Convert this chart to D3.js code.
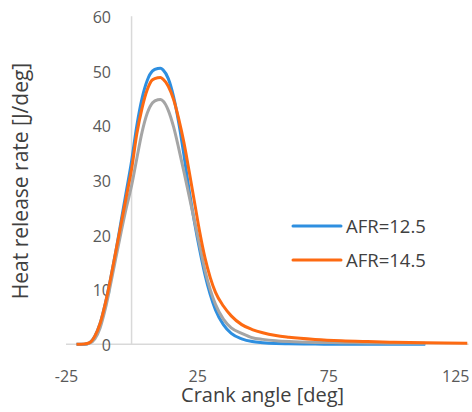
<!DOCTYPE html>
<html>
<head>
<meta charset="utf-8">
<script src="https://cdn.jsdelivr.net/npm/d3@7"></script>
<style>
  html, body { margin: 0; padding: 0; background: #fff; }
  svg { display: block; font-family: "Open Sans", sans-serif; }
</style>
</head>
<body>
<div id="chart"></div>
<script>
// crank angle [deg]
var angles = [-21, -18, -16, -14, -12, -10, -8, -6, -4, -2, 0, 2, 4, 6, 8, 10, 11, 12, 14, 16, 18, 20,
  22, 24, 26, 28, 30, 32, 35, 38, 42, 46, 50, 55, 60, 70, 80, 90, 100, 112, 128];

// heat release rate [J/deg]
var afr125 = [0, 0, 0.3, 1.5, 3.8, 7.5, 12, 17, 22.5, 28, 33.5, 40, 45, 48.3, 50, 50.45, 50.5, 50.2, 48.6, 45.3, 40.5, 34.5,
  28, 22.3, 17.2, 12.7, 9.1, 6.3, 3.6, 2.0, 1.0, 0.5, 0.3, 0.15, 0.1, 0.05, 0, 0, 0, 0, null];
var afrMid = [null, 0, 0.2, 1.0, 3.0, 6.5, 11, 15.8, 20.5, 25, 29, 34, 38.8, 42.3, 44.2, 44.75, 44.8, 44.5, 42.8, 39.8, 35.8, 31.5,
  27, 22.5, 18, 13.5, 10, 7.3, 4.6, 3.0, 2.0, 1.2, 0.9, 0.65, 0.5, 0.35, 0.3, 0.25, 0.2, 0.2, null];
var afr145 = [0, 0.05, 0.3, 1.5, 3.8, 7.5, 12, 17, 22, 27, 32, 38.5, 43.2, 46.6, 48.4, 48.75, 48.8, 48.5, 47.2, 44.8, 41.2, 36.8,
  31.5, 26, 20.5, 15.8, 12.2, 9.5, 7.0, 5.2, 3.6, 2.7, 2.1, 1.6, 1.3, 0.9, 0.65, 0.5, 0.38, 0.28, 0.2];

var xTicks = [-25, 25, 75, 125];
var yTicks = [0, 10, 20, 30, 40, 50, 60];

var series = [
  {name: "AFR=12.5", values: afr125, color: "#2e8fe0", legend: true},
  {name: "AFR=13.5", values: afrMid, color: "#a5a5a5", legend: false},
  {name: "AFR=14.5", values: afr145, color: "#fd6a12", legend: true}
];

var width = 472, height = 412;

var x = d3.scaleLinear().domain([-25, 128.5]).range([66, 468.6]);
var y = d3.scaleLinear().domain([0, 60]).range([344.3, 16.3]);

var svg = d3.select("#chart").append("svg")
  .attr("width", width)
  .attr("height", height);

// axis lines
svg.append("line")
  .attr("x1", x(-25)).attr("x2", x(128.5))
  .attr("y1", y(0)).attr("y2", y(0))
  .attr("stroke", "#d9d9d9").attr("stroke-width", 1.5);
svg.append("line")
  .attr("x1", x(0)).attr("x2", x(0))
  .attr("y1", y(0)).attr("y2", y(60))
  .attr("stroke", "#d9d9d9").attr("stroke-width", 1.5);

// y tick labels
var yAxis = svg.append("g")
  .attr("transform", "translate(111,0)")
  .call(d3.axisLeft(y).tickValues(yTicks).tickSize(0).tickPadding(0));
yAxis.select(".domain").remove();
yAxis.selectAll("text")
  .attr("dy", "0.38em")
  .style("font-family", "'Open Sans', sans-serif")
  .style("font-size", "16px")
  .attr("fill", "#595959");

// x tick labels (plain hyphen for negatives)
var xAxis = svg.append("g")
  .attr("transform", "translate(0," + y(0) + ")")
  .call(d3.axisBottom(x).tickValues(xTicks).tickSize(0)
    .tickFormat(function(d) { return String(d); }));
xAxis.select(".domain").remove();
xAxis.selectAll("text")
  .attr("y", 37.5).attr("dy", 0)
  .style("font-family", "'Open Sans', sans-serif")
  .style("font-size", "16px")
  .attr("fill", "#595959");
// last label pulled inside the frame
xAxis.selectAll(".tick").filter(function(d) { return d === 125; })
  .select("text").attr("text-anchor", "end").attr("x", 469 - x(125));

// curves
var line = d3.line()
  .defined(function(d) { return d[1] !== null; })
  .x(function(d) { return x(d[0]); })
  .y(function(d) { return y(d[1]); })
  .curve(d3.curveMonotoneX);

series.forEach(function(s) {
  svg.append("path")
    .datum(angles.map(function(a, i) { return [a, s.values[i]]; }))
    .attr("fill", "none")
    .attr("stroke", s.color)
    .attr("stroke-width", 3)
    .attr("stroke-linejoin", "round")
    .attr("d", line);
});

// legend
var legend = svg.append("g");
series.filter(function(s) { return s.legend; }).forEach(function(s, i) {
  var ly = 226 + i * 34;
  legend.append("line")
    .attr("x1", 293).attr("x2", 341)
    .attr("y1", ly).attr("y2", ly)
    .attr("stroke", s.color).attr("stroke-width", 3).attr("stroke-linecap", "round");
  legend.append("text")
    .attr("x", 346).attr("y", ly + 7)
    .attr("fill", "#404040")
    .style("font-size", "18.5px")
    .text(s.name);
});

// axis titles
svg.append("text")
  .attr("x", 262.6).attr("y", 402)
  .attr("text-anchor", "middle")
  .attr("fill", "#404040")
  .style("font-size", "20px")
  .text("Crank angle [deg]");

svg.append("text")
  .attr("transform", "translate(28,181) rotate(-90)")
  .attr("text-anchor", "middle")
  .attr("fill", "#404040")
  .style("font-size", "21px")
  .text("Heat release rate [J/deg]");
</script>
</body>
</html>
